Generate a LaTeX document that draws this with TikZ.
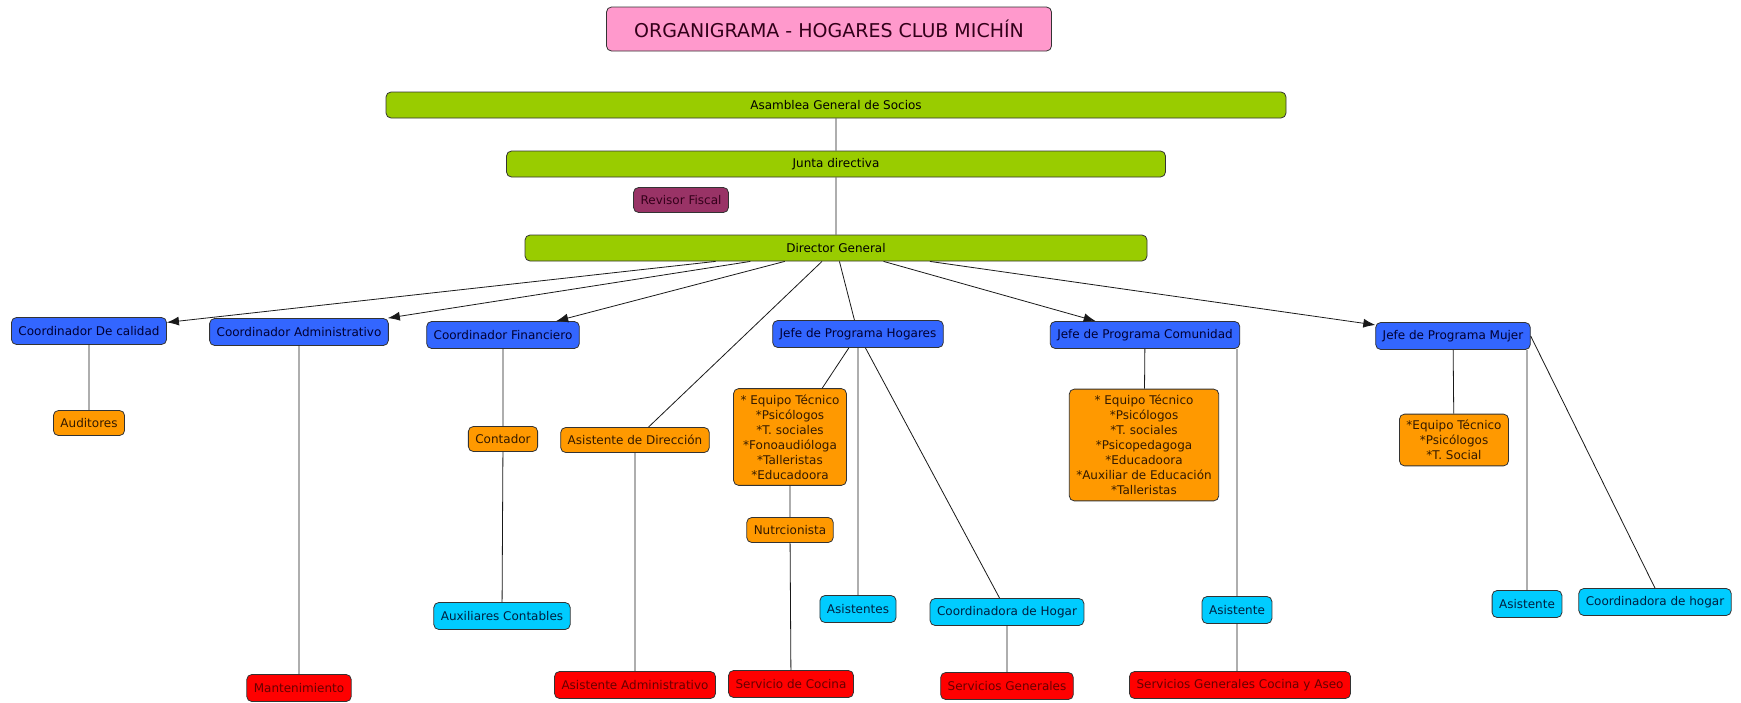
\documentclass[tikz,border=0pt]{standalone}
\usepackage{fontspec}
\setmainfont{DejaVu Sans}
\usetikzlibrary{arrows.meta, positioning}

\definecolor{titlepink}{HTML}{FF99CC}
\definecolor{titletext}{HTML}{33001A}
\definecolor{barfill}{HTML}{99CC00}
\definecolor{revfill}{HTML}{993366}
\definecolor{bluefill}{HTML}{3366FF}
\definecolor{bluetext}{HTML}{000033}
\definecolor{orangefill}{HTML}{FF9900}
\definecolor{orangetext}{HTML}{331A00}
\definecolor{cyanfill}{HTML}{00CCFF}
\definecolor{cyantext}{HTML}{002040}
\definecolor{redfill}{HTML}{FF0000}
\definecolor{redtext}{HTML}{660000}

\begin{document}
\begin{tikzpicture}[x=1pt, y=-1pt,
    box/.style={draw=black!80, rounded corners=5pt, line width=0.8pt,
      inner xsep=7pt, inner ysep=0pt, minimum height=25pt,
      font=\fontsize{12}{15}\selectfont, align=center},
    titlebox/.style={box, fill=titlepink, text=titletext, minimum width=445pt,
      minimum height=44pt, font=\fontsize{19}{22}\selectfont},
    greenbar/.style={box, fill=barfill, text=black, minimum height=26pt},
    purplebox/.style={box, fill=revfill, text=titletext},
    bluebox/.style={box, fill=bluefill, text=bluetext, minimum height=27pt},
    orangebox/.style={box, fill=orangefill, text=orangetext},
    cyanbox/.style={box, fill=cyanfill, text=cyantext, minimum height=27pt},
    redbox/.style={box, fill=redfill, text=redtext, minimum height=27pt},
    conn/.style={draw=black!90, line width=0.8pt},
    connarrow/.style={conn, -{Latex[length=12pt,width=9pt]}}]

  \useasboundingbox (0,0) rectangle (1741,702);

  % top
  \node[titlebox] (title) at (829, 29) {ORGANIGRAMA - HOGARES CLUB MICHÍN};
  \node[greenbar, minimum width=900pt] (asamblea) at (836, 105) {Asamblea General de Socios};
  \node[greenbar, minimum width=659pt] (junta) at (836, 164) {Junta directiva};
  \node[purplebox] (revisor) at (681, 200) {Revisor Fiscal};
  \node[greenbar, minimum width=622pt] (director) at (836, 248) {Director General};

  % second level
  \node[bluebox] (cCalidad) at (89, 331) {Coordinador De calidad};
  \node[bluebox] (cAdmin) at (299, 332) {Coordinador Administrativo};
  \node[bluebox] (cFin) at (503, 335) {Coordinador Financiero};
  \node[bluebox] (jHogares) at (858, 334) {Jefe de Programa Hogares};
  \node[bluebox] (jComunidad) at (1145, 335) {Jefe de Programa Comunidad};
  \node[bluebox] (jMujer) at (1453, 336) {Jefe de Programa Mujer};

  % orange
  \node[orangebox] (auditores) at (89, 423) {Auditores};
  \node[orangebox] (contador) at (503, 439) {Contador};
  \node[orangebox] (asisDir) at (635, 440) {Asistente de Dirección};
  \node[orangebox, inner ysep=6pt] (eqHogares) at (790, 437)
    {* Equipo Técnico\\*Psicólogos\\*T. sociales\\*Fonoaudióloga\\*Talleristas\\*Educadoora};
  \node[orangebox] (nutri) at (790, 530) {Nutrcionista};
  \node[orangebox, inner ysep=6pt] (eqComunidad) at (1144, 445)
    {* Equipo Técnico\\*Psicólogos\\*T. sociales\\*Psicopedagoga\\*Educadoora\\*Auxiliar de Educación\\*Talleristas};
  \node[orangebox, inner ysep=6pt] (eqMujer) at (1454, 440)
    {*Equipo Técnico\\*Psicólogos\\*T. Social};

  % light blue
  \node[cyanbox] (auxCont) at (502, 616) {Auxiliares Contables};
  \node[cyanbox] (asisHog) at (858, 609) {Asistentes};
  \node[cyanbox] (coordHogar) at (1007, 612) {Coordinadora de Hogar};
  \node[cyanbox] (asisCom) at (1237, 610) {Asistente};
  \node[cyanbox] (asisMuj) at (1527, 604) {Asistente};
  \node[cyanbox] (coordMuj) at (1655, 602) {Coordinadora de hogar};

  % red
  \node[redbox] (mant) at (299, 688) {Mantenimiento};
  \node[redbox] (asisAdm) at (635, 685) {Asistente Administrativo};
  \node[redbox] (cocina) at (791, 684) {Servicio de Cocina};
  \node[redbox] (servGen) at (1007, 686) {Servicios Generales};
  \node[redbox] (servCocAseo) at (1240, 685) {Servicios Generales Cocina y Aseo};

  \draw[conn]
  (asamblea) -- (junta)
  (junta) -- (director)
  (director) -- (asisDir)
  (director) -- (jHogares);
  \draw[connarrow] (director) -- (cCalidad);
  \draw[connarrow] (director) -- (cAdmin);
  \draw[connarrow] (director) -- (cFin);
  \draw[connarrow] (director) -- (jComunidad);
  \draw[connarrow] (director) -- (jMujer);

  \draw[conn]
  (cCalidad) -- (auditores)
  (cAdmin) -- (mant)
  (cFin) -- (contador)
  (contador) -- (auxCont)
  (asisDir) -- (asisAdm)
  (jHogares) -- (eqHogares)
  (eqHogares) -- (nutri)
  (nutri) -- (cocina)
  (jHogares) -- (asisHog)
  (jHogares) -- (coordHogar)
  (coordHogar) -- (servGen)
  (jComunidad) -- (eqComunidad)
  (asisCom) -- (asisCom |- jComunidad.south)
  (asisCom) -- (asisCom |- servCocAseo.north)
  (jMujer) -- (eqMujer)
  (asisMuj) -- (asisMuj |- jMujer.south)
  (jMujer.east) -- (coordMuj.north);
\end{tikzpicture}
\end{document}
